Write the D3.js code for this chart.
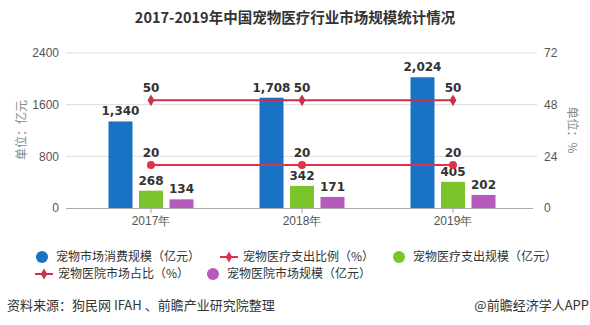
<!DOCTYPE html>
<html>
<head>
<meta charset="utf-8">
<script src="https://cdn.jsdelivr.net/npm/d3@7"></script>
<style>
  html, body { margin: 0; padding: 0; background: #fff; }
  svg { display: block; font-family: "Microsoft YaHei", "Noto Sans CJK SC", sans-serif; }
</style>
</head>
<body>
<svg id="chart" width="590" height="325"></svg>
<script>
// Market size figures (亿元) and shares (%)
const years = ["2017年", "2018年", "2019年"];
const petMarket = [1340, 1708, 2024];      // 宠物市场消费规模
const medicalSpend = [268, 342, 405];      // 宠物医疗支出规模
const hospitalMarket = [134, 171, 202];    // 宠物医院市场规模
const medicalRatio = [20, 20, 20];         // 宠物医疗支出比例
const hospitalShare = [50, 50, 50];        // 宠物医院市场占比
const leftTicks = [0, 800, 1600, 2400];
const rightTicks = [0, 24, 48, 72];

const svg = d3.select("#chart");
const gridLeft = 66, gridRight = 537, plotTop = 53, plotBottom = 208;

const x = d3.scaleBand().domain(years).range([75.5, 528.5]);
const yL = d3.scaleLinear().domain([0, 2400]).range([plotBottom, plotTop]);
const yR = d3.scaleLinear().domain([0, 72]).range([plotBottom, plotTop]);

const fmt = d3.format(",");

// Title
svg.append("text").attr("x", 295).attr("y", 23).attr("text-anchor", "middle")
  .attr("font-size", 14.5).attr("font-weight", "bold").attr("fill", "#333")
  .text("2017-2019年中国宠物医疗行业市场规模统计情况");

// Grid lines
svg.append("g").selectAll("line").data(leftTicks.filter(d => d > 0)).join("line")
  .attr("x1", gridLeft).attr("x2", gridRight)
  .attr("y1", d => yL(d)).attr("y2", d => yL(d))
  .attr("stroke", "#dcdcdc").attr("stroke-width", 1);

// Left axis
const leftAxis = svg.append("g").attr("transform", `translate(${gridLeft},0)`)
  .call(d3.axisLeft(yL).tickValues(leftTicks).tickSize(0).tickPadding(7).tickFormat(d3.format("d")));
leftAxis.select(".domain").remove();
leftAxis.selectAll("text").attr("font-size", 12).attr("fill", "#555")
  .attr("font-family", "'Liberation Sans', Arial, sans-serif");

// Right axis
const rightAxis = svg.append("g").attr("transform", `translate(${gridRight},0)`)
  .call(d3.axisRight(yR).tickValues(rightTicks).tickSize(0).tickPadding(7));
rightAxis.select(".domain").remove();
rightAxis.selectAll("text").attr("font-size", 12).attr("fill", "#555")
  .attr("font-family", "'Liberation Sans', Arial, sans-serif");

// Bottom axis
const bottomAxis = svg.append("g").attr("transform", `translate(0,${plotBottom})`)
  .call(d3.axisBottom(x).tickSize(5).tickPadding(3));
bottomAxis.select(".domain").attr("d", `M${gridLeft},0.5H${gridRight - 4}`).attr("stroke", "#aaa");
bottomAxis.selectAll(".tick line").attr("stroke", "#aaa");
bottomAxis.selectAll("text").attr("font-size", 12).attr("fill", "#555");

// Axis titles
svg.append("text").attr("transform", "translate(26,130) rotate(-90)")
  .attr("text-anchor", "middle").attr("font-size", 12).attr("fill", "#888").text("单位：亿元");
svg.append("text").attr("transform", "translate(568,130) rotate(90)")
  .attr("text-anchor", "middle").attr("font-size", 12).attr("fill", "#888").text("单位：%");

// Bars
const barW = 24, barGap = 6.5;
const barSeries = [
  { values: petMarket, color: "#1a72c4", offset: -1 },
  { values: medicalSpend, color: "#7cc42b", offset: 0 },
  { values: hospitalMarket, color: "#b65bbd", offset: 1 }
];
const bw = x.bandwidth();
barSeries.forEach(s => {
  const g = svg.append("g");
  const cx = (d, i) => x(years[i]) + bw / 2 + s.offset * (barW + barGap);
  g.selectAll("rect").data(s.values).join("rect")
    .attr("x", (d, i) => cx(d, i) - barW / 2)
    .attr("y", d => yL(d))
    .attr("width", barW)
    .attr("height", d => plotBottom - yL(d))
    .attr("fill", s.color);
  g.selectAll("text").data(s.values).join("text")
    .attr("x", (d, i) => cx(d, i))
    .attr("y", d => yL(d) - 6)
    .attr("text-anchor", "middle").attr("font-size", 12).attr("font-weight", "bold")
    .attr("fill", "#333").attr("font-family", "Verdana, 'DejaVu Sans', sans-serif")
    .text(d => fmt(d));
});

// Lines
const lineSeries = [
  { values: hospitalShare, color: "#c9304e", marker: "diamond" },
  { values: medicalRatio, color: "#e1304a", marker: "circle" }
];
const lineGen = d3.line().x((d, i) => x(years[i]) + bw / 2).y(d => yR(d));
lineSeries.forEach(s => {
  const g = svg.append("g");
  g.append("path").datum(s.values).attr("d", lineGen)
    .attr("fill", "none").attr("stroke", s.color).attr("stroke-width", 2);
  const sym = s.marker === "diamond" ? d3.symbolDiamond : d3.symbolCircle;
  const size = s.marker === "diamond" ? 40 : 50;
  g.selectAll("path.m").data(s.values).join("path").attr("class", "m")
    .attr("transform", (d, i) => `translate(${x(years[i]) + bw / 2},${yR(d)})`)
    .attr("d", d3.symbol().type(sym).size(size))
    .attr("fill", s.color);
  g.selectAll("text").data(s.values).join("text")
    .attr("x", (d, i) => x(years[i]) + bw / 2)
    .attr("y", d => yR(d) - 8)
    .attr("text-anchor", "middle").attr("font-size", 12).attr("font-weight", "bold")
    .attr("fill", "#333").attr("font-family", "Verdana, 'DejaVu Sans', sans-serif")
    .text(d => d);
});

// Legend
const legend = [
  { label: "宠物市场消费规模（亿元）", type: "dot", color: "#1a72c4", x: 42, y: 257 },
  { label: "宠物医疗支出比例（%）", type: "line", color: "#e1304a", x: 229, y: 257 },
  { label: "宠物医疗支出规模（亿元）", type: "dot", color: "#7cc42b", x: 399, y: 257 },
  { label: "宠物医院市场占比（%）", type: "line", color: "#c9304e", x: 44, y: 274 },
  { label: "宠物医院市场规模（亿元）", type: "dot", color: "#b65bbd", x: 213, y: 274 }
];
const lg = svg.append("g");
legend.forEach(d => {
  if (d.type === "dot") {
    lg.append("circle").attr("cx", d.x).attr("cy", d.y).attr("r", 6).attr("fill", d.color);
  } else {
    lg.append("line").attr("x1", d.x - 9).attr("x2", d.x + 9).attr("y1", d.y).attr("y2", d.y)
      .attr("stroke", d.color).attr("stroke-width", 2);
    lg.append("path").attr("transform", `translate(${d.x},${d.y})`)
      .attr("d", d3.symbol().type(d3.symbolDiamond).size(36)).attr("fill", d.color);
  }
  lg.append("text").attr("x", d.x + 14).attr("y", d.y).attr("dy", "0.35em")
    .attr("font-size", 12).attr("fill", "#333").text(d.label);
});

// Footer
svg.append("text").attr("x", 7).attr("y", 305).attr("dy", "0.35em")
  .attr("font-size", 13).attr("fill", "#333").text("资料来源：狗民网 IFAH 、前瞻产业研究院整理");
svg.append("text").attr("x", 589).attr("y", 305).attr("dy", "0.35em").attr("text-anchor", "end")
  .attr("font-size", 13).attr("fill", "#333").text("@前瞻经济学人APP");
</script>
</body>
</html>
